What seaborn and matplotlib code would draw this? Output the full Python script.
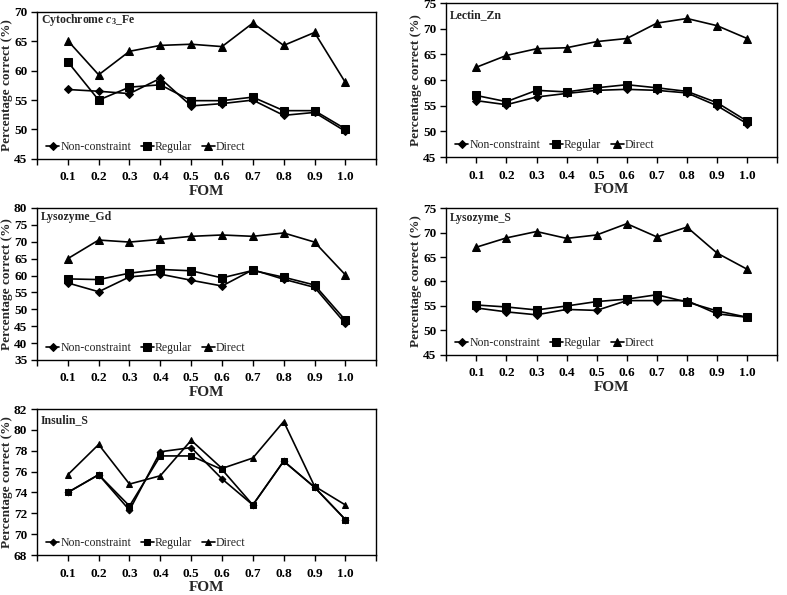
import numpy as np
import pandas as pd
import matplotlib
matplotlib.use('Agg')
import matplotlib.pyplot as plt
import seaborn as sns

# FOM categories
fom = [0.1, 0.2, 0.3, 0.4, 0.5, 0.6, 0.7, 0.8, 0.9, 1.0]
fom_labels = ['0.1', '0.2', '0.3', '0.4', '0.5', '0.6', '0.7', '0.8', '0.9', '1.0']
series = ['Non-constraint', 'Regular', 'Direct']

# Cytochrome c3_Fe
cyto_nc = [56.8, 56.5, 56.1, 58.7, 54.0, 54.4, 55.0, 52.4, 52.9, 49.7]
cyto_reg = [61.5, 55.0, 57.2, 57.6, 54.9, 54.9, 55.5, 53.2, 53.2, 50.1]
cyto_dir = [65.1, 59.3, 63.3, 64.3, 64.5, 64.1, 68.1, 64.3, 66.5, 58.0]

# Lectin_Zn
lectin_nc = [56.0, 55.2, 56.7, 57.4, 58.0, 58.2, 58.0, 57.5, 55.0, 51.5]
lectin_reg = [57.0, 55.8, 58.0, 57.7, 58.5, 59.1, 58.5, 57.8, 55.6, 52.0]
lectin_dir = [62.5, 64.8, 66.1, 66.3, 67.5, 68.1, 71.1, 72.0, 70.6, 68.1]

# Lysozyme_Gd
lysgd_nc = [57.8, 55.2, 59.6, 60.4, 58.6, 56.9, 61.7, 58.9, 56.5, 45.8]
lysgd_reg = [59.0, 58.8, 60.7, 61.8, 61.4, 59.3, 61.5, 59.5, 57.2, 46.8]
lysgd_dir = [65.0, 70.5, 69.9, 70.7, 71.6, 72.0, 71.6, 72.6, 69.9, 60.2]

# Lysozyme_S
lyss_nc = [54.6, 53.8, 53.2, 54.3, 54.1, 56.1, 56.1, 56.1, 53.4, 52.7]
lyss_reg = [55.2, 54.8, 54.2, 55.0, 55.9, 56.4, 57.3, 55.8, 54.0, 52.7]
lyss_dir = [67.0, 68.9, 70.2, 68.8, 69.5, 71.8, 69.1, 71.1, 65.8, 62.5]

# Insulin_S
ins_nc = [74.0, 75.7, 72.3, 77.9, 78.3, 75.3, 72.8, 77.0, 74.5, 71.4]
ins_reg = [74.0, 75.7, 72.7, 77.5, 77.5, 76.2, 72.8, 77.0, 74.5, 71.4]
ins_dir = [75.7, 78.6, 74.8, 75.6, 79.0, 76.3, 77.3, 80.8, 74.6, 72.8]

sns.set_style('ticks')
plt.rcParams['font.family'] = ['Liberation Serif', 'DejaVu Serif']
plt.rcParams['mathtext.fontset'] = 'custom'
plt.rcParams['mathtext.rm'] = 'Liberation Serif:bold'
plt.rcParams['mathtext.it'] = 'Liberation Serif:italic:bold'
plt.rcParams['mathtext.bf'] = 'Liberation Serif:bold'

fig = plt.figure(figsize=(7.87, 5.95), dpi=100)

panels = [
    # title, data, ylim, ystep, rect, marker scale, title y
    (r'Cytochrome $c_{\mathrm{3}}$_Fe', (cyto_nc, cyto_reg, cyto_dir), (45, 70), 5,
     [0.047, 0.733, 0.431, 0.247], 1.0, 0.945),
    ('Lectin_Zn', (lectin_nc, lectin_reg, lectin_dir), (45, 75), 5,
     [0.567, 0.736, 0.4206, 0.2588], 1.0, 0.92),
    ('Lysozyme_Gd', (lysgd_nc, lysgd_reg, lysgd_dir), (35, 80), 5,
     [0.047, 0.395, 0.431, 0.2555], 1.0, 0.94),
    ('Lysozyme_S', (lyss_nc, lyss_reg, lyss_dir), (45, 75), 5,
     [0.567, 0.4034, 0.4206, 0.247], 1.0, 0.93),
    ('Insulin_S', (ins_nc, ins_reg, ins_dir), (68, 82), 2,
     [0.047, 0.0672, 0.431, 0.2454], 0.8, 0.925),
]

markers = {'Non-constraint': 'D', 'Regular': 's', 'Direct': '^'}
msizes = {'D': 4.3, 's': 5.2, '^': 5.5}

for title, vals, ylim, ystep, rect, mscale, ty in panels:
    ax = fig.add_axes(rect)
    df = pd.DataFrame({
        'FOM': fom * 3,
        'value': list(vals[0]) + list(vals[1]) + list(vals[2]),
        'series': np.repeat(series, len(fom)),
    })
    sns.lineplot(data=df, x='FOM', y='value', style='series', markers=markers,
                 dashes=False, color='black', linewidth=1.2,
                 markeredgecolor='black', ax=ax)
    handles, labels = ax.get_legend_handles_labels()
    for line in list(ax.lines) + list(handles):
        m = line.get_marker()
        if m in msizes:
            line.set_markersize(msizes[m] * mscale)
    ax.set_xlim(0, 1.1)
    ax.set_xticks([0] + fom + [1.1])
    ax.set_xticklabels([''] + fom_labels + [''], fontweight='bold', fontsize=9.5)
    ax.set_ylim(*ylim)
    yt = np.arange(ylim[0], ylim[1] + 0.1, ystep)
    ax.set_yticks(yt)
    ax.set_yticklabels([str(int(v)) for v in yt], fontweight='bold', fontsize=9.5)
    ax.tick_params(axis='x', length=4, width=1, pad=5, colors='black')
    ax.tick_params(axis='y', length=4, width=1, pad=3, colors='black')
    for s in ax.spines.values():
        s.set_visible(True)
        s.set_color('black')
        s.set_linewidth(1)
    ax.set_xlabel('FOM', fontweight='bold', fontsize=11, labelpad=1)
    ax.set_ylabel('Percentage correct (%)', fontweight='bold', fontsize=9.5, labelpad=1)
    ax.text(0.012, ty, title, transform=ax.transAxes, fontweight='bold',
            fontsize=8.5, va='center', ha='left')
    ax.legend(handles, labels, loc='lower left', ncol=3, frameon=False,
              fontsize=8.5, handlelength=1.1, handletextpad=0.1, columnspacing=0.8,
              borderaxespad=0.1, bbox_to_anchor=(0.01, 0.0))

fig.savefig('out.png', dpi=100)
